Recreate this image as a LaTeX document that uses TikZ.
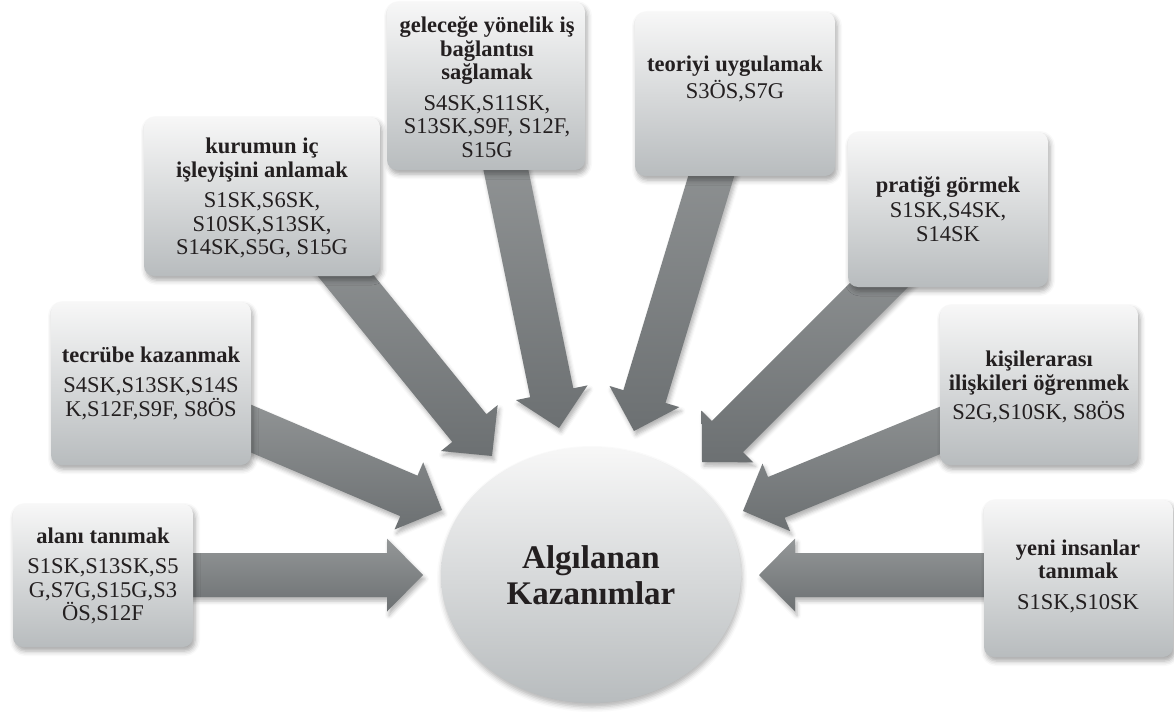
\documentclass[tikz,border=0pt]{standalone}
\usepackage{fontspec}
\setmainfont{Liberation Serif}
\usetikzlibrary{calc,shapes.geometric,shadows.blur}
\definecolor{boxtop}{RGB}{247,247,247}
\definecolor{boxbot}{RGB}{184,188,190}
\definecolor{arrtop}{RGB}{148,151,152}
\definecolor{arrbot}{RGB}{108,112,114}
\definecolor{txt}{RGB}{35,31,32}
\tikzset{
  box/.style={draw=none, rounded corners=10pt, top color=boxtop, bottom color=boxbot,
    blur shadow={shadow xshift=2pt, shadow yshift=-4pt, shadow blur radius=5pt, shadow opacity=35},
    inner sep=0pt},
  lbl/.style={align=center, text=txt, font=\fontsize{22.5}{23.5}\selectfont, inner sep=0pt},
  arr/.style={top color=arrtop, bottom color=arrbot,
    blur shadow={shadow xshift=2pt, shadow yshift=-4pt, shadow blur radius=4pt, shadow opacity=30}},
  hub/.style={ellipse, draw=none, minimum width=300pt, minimum height=256pt, inner sep=0pt,
    top color=boxtop, bottom color=boxbot,
    blur shadow={shadow xshift=1pt, shadow yshift=-4pt, shadow blur radius=5pt, shadow opacity=30},
    align=center, text=txt, font=\bfseries\fontsize{33}{36}\selectfont}
}
\newcommand{\blockarr}[2]{%
  \coordinate (hb) at ($(#2)!36pt!(#1)$);
  \path[arr] ($(#1)!22pt!90:(#2)$) -- ($(hb)!22pt!90:(#2)$) -- ($(hb)!36.5pt!90:(#2)$)
    -- (#2) -- ($(hb)!36.5pt!-90:(#2)$) -- ($(hb)!22pt!-90:(#2)$) -- ($(#1)!22pt!-90:(#2)$) -- cycle;
}
\begin{document}
\begin{tikzpicture}[x=1pt,y=-1pt]
\useasboundingbox (0,0) rectangle (1174,714);

% hub
\node[hub] (c) at (591,575) {Algılanan\\Kazanımlar};

% arrow end points
\coordinate (a1s) at (100,575);     \coordinate (a1t) at (423,575);
\coordinate (a2s) at (212,412);     \coordinate (a2t) at (442,510);
\coordinate (a3s) at (303,223);     \coordinate (a3t) at (492,456);
\coordinate (a4s) at (498.5,134);   \coordinate (a4t) at (559,428);
\coordinate (a5s) at (729.7,115);   \coordinate (a5t) at (634,431);
\coordinate (a6s) at (935,229);     \coordinate (a6t) at (702,462);
\coordinate (a7s) at (1020.7,397.4);\coordinate (a7t) at (743,511);
\coordinate (a8s) at (1080,575);    \coordinate (a8t) at (759,575);

\blockarr{a1s}{a1t}
\blockarr{a2s}{a2t}
\blockarr{a3s}{a3t}
\blockarr{a4s}{a4t}
\blockarr{a5s}{a5t}
\blockarr{a6s}{a6t}
\blockarr{a7s}{a7t}
\blockarr{a8s}{a8t}

% boxes
\node[box, minimum width=180pt, minimum height=143pt] (b1) at (103,575.5) {};
\node[box, minimum width=200pt, minimum height=163pt] (b2) at (151,383.5) {};
\node[box, minimum width=236pt, minimum height=159pt] (b3) at (262,196.5) {};
\node[box, minimum width=198pt, minimum height=168pt] (b4) at (486,86) {};
\node[box, minimum width=200pt, minimum height=164pt] (b5) at (735,94) {};
\node[box, minimum width=200pt, minimum height=155pt] (b6) at (948,209.5) {};
\node[box, minimum width=198pt, minimum height=160pt] (b7) at (1039,385) {};
\node[box, minimum width=189pt, minimum height=157pt] (b8) at (1078.5,578.5) {};

% texts
\node[lbl] (t1) at (103,576) {\textbf{alanı tanımak}\\[7pt]S1SK,S13SK,S5\\G,S7G,S15G,S3\\ÖS,S12F};
\node[lbl] (t2) at (151,383) {\textbf{tecrübe kazanmak}\\[7pt]S4SK,S13SK,S14S\\K,S12F,S9F, S8ÖS};
\node[lbl] (t3) at (262,198) {\textbf{kurumun iç}\\\textbf{işleyişini anlamak}\\[7pt]S1SK,S6SK,\\S10SK,S13SK,\\S14SK,S5G, S15G};
\node[lbl] (t4) at (487,87) {\textbf{geleceğe yönelik iş}\\\textbf{bağlantısı}\\\textbf{sağlamak}\\[7pt]S4SK,S11SK,\\S13SK,S9F, S12F,\\S15G};
\node[lbl] (t5) at (735,79) {\textbf{teoriyi uygulamak}\\[4pt]S3ÖS,S7G};
\node[lbl] (t6) at (948,209) {\textbf{pratiği görmek}\\[2pt]S1SK,S4SK,\\S14SK};
\node[lbl] (t7) at (1039,387) {\textbf{kişilerarası}\\\textbf{ilişkileri öğrenmek}\\[6pt]S2G,S10SK, S8ÖS};
\node[lbl] (t8) at (1078,576) {\textbf{yeni insanlar}\\\textbf{tanımak}\\[7pt]S1SK,S10SK};
\end{tikzpicture}
\end{document}
